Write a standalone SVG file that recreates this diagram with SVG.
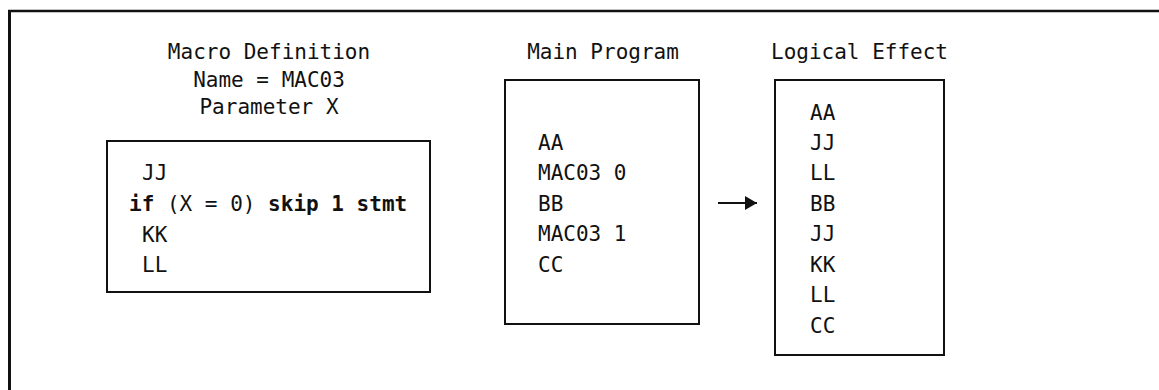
<svg xmlns="http://www.w3.org/2000/svg" width="1159" height="390" viewBox="0 0 1159 390">
<style>
text{font-family:"DejaVu Sans Mono","Liberation Mono",monospace;font-size:21px;fill:#111}
.c{text-anchor:middle}
.b{font-weight:bold}
.box{fill:none;stroke:#111;stroke-width:2}
.frame{fill:none;stroke:#111}
</style>
<defs>
<marker id="ah" markerWidth="12" markerHeight="14" refX="12" refY="7" orient="auto" markerUnits="userSpaceOnUse">
<path d="M0,0 L12,7 L0,14 Z" fill="#111"/>
</marker>
</defs>
<rect width="1159" height="390" fill="#fff"/>
<g id="frame">
<line class="frame" x1="8" y1="11" x2="1159" y2="11" stroke-width="2.5"/>
<line class="frame" x1="9.5" y1="10" x2="9.5" y2="390" stroke-width="3"/>
</g>
<g id="macro-definition">
<text class="c" x="269" y="59">Macro Definition</text>
<text class="c" x="269" y="87">Name = MAC03</text>
<text class="c" x="269" y="114">Parameter X</text>
<rect class="box" x="107" y="141" width="323" height="151"/>
<text x="142" y="180">JJ</text>
<text class="b" x="129" y="211">if <tspan font-weight="normal">(X = 0)</tspan> skip 1 stmt</text>
<text x="142" y="242">KK</text>
<text x="142" y="272">LL</text>
</g>
<g id="main-program">
<text class="c" x="603" y="59">Main Program</text>
<rect class="box" x="505" y="80" width="194" height="244"/>
<text x="538" y="150">AA</text>
<text x="538" y="180">MAC03 0</text>
<text x="538" y="211">BB</text>
<text x="538" y="241">MAC03 1</text>
<text x="538" y="272">CC</text>
</g>
<g id="logical-effect">
<text class="c" x="859.5" y="59">Logical Effect</text>
<rect class="box" x="775" y="80" width="169" height="275"/>
<text x="810" y="120">AA</text>
<text x="810" y="150">JJ</text>
<text x="810" y="180">LL</text>
<text x="810" y="211">BB</text>
<text x="810" y="241">JJ</text>
<text x="810" y="272">KK</text>
<text x="810" y="302">LL</text>
<text x="810" y="333">CC</text>
</g>
<g id="connectors">
<line x1="718" y1="203" x2="757" y2="203" stroke="#111" stroke-width="2" marker-end="url(#ah)"/>
</g>
</svg>
